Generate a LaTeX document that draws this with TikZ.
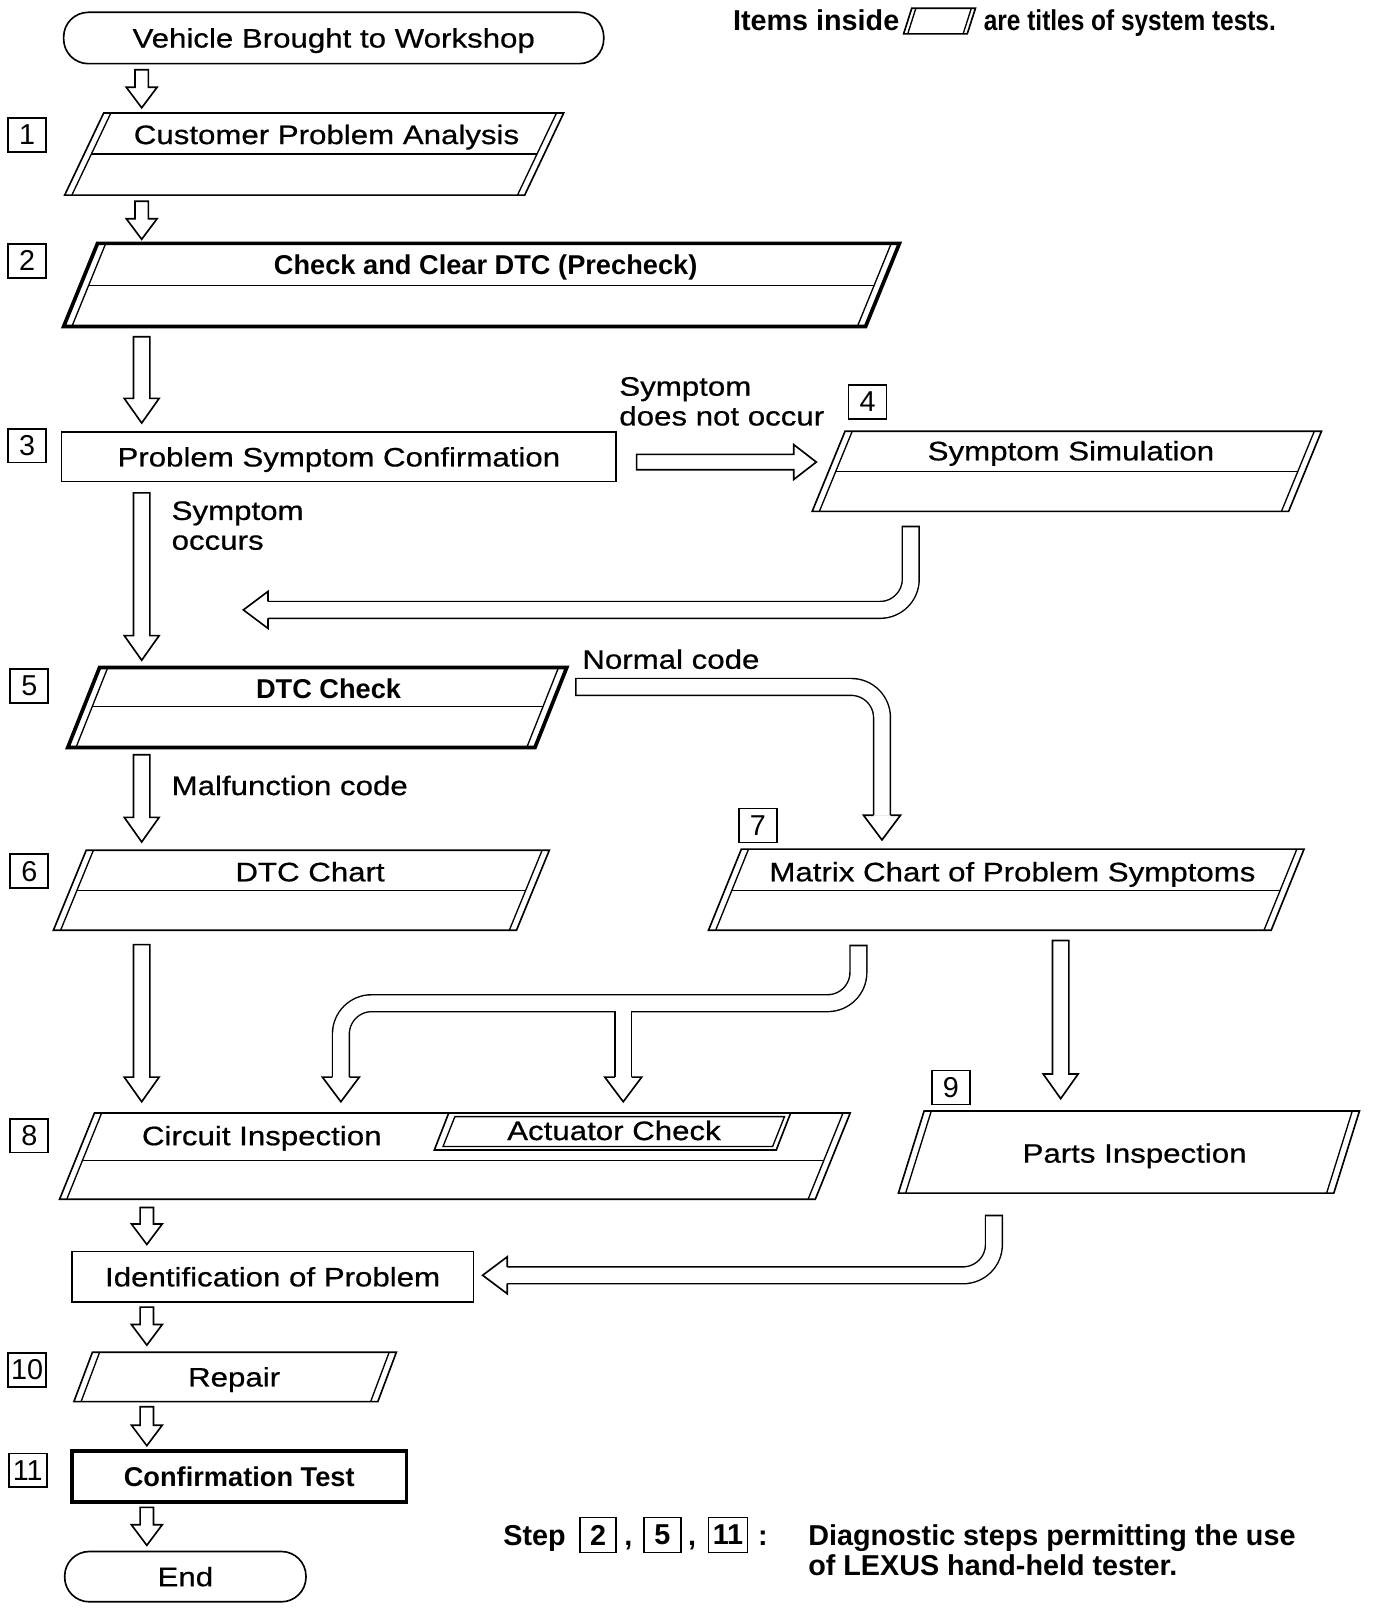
\documentclass[tikz,border=0pt]{standalone}
\usepackage{graphicx}
\usepackage{fontspec}
\setmainfont{Liberation Sans}
\newfontfamily\widefont[FakeStretch=1.17,FakeBold=0.6]{Liberation Sans}
\usetikzlibrary{calc}
% parallelogram: #1 top y, #2 bottom y, #3 top-left x, #4 top-right x, #5 slant, #6 middle-line y (or empty), #7 outline style, #8 inner offset
\newcommand\para[8]{%
 \draw[#7,fill=white] (#3,#1) -- (#4,#1) -- (#4-#5,#2) -- (#3-#5,#2) -- cycle;
 \draw[thinln] (#3+#8,#1) -- (#3+#8-#5,#2);
 \draw[thinln] (#4-#8,#1) -- (#4-#8-#5,#2);
 \if\relax\detokenize{#6}\relax\else
  \draw[thinln] ({#3+#8-#5*(#6-#1)/(#2-#1)},#6) -- ({#4-#8-#5*(#6-#1)/(#2-#1)},#6);
 \fi}
% hollow down arrow: from, to, shaft half width, head half width, head length
\newcommand\dnarrow[5]{%
 \draw[ln,fill=white] let \p1=(#1), \p2=(#2) in
  (\x1-#3,\y1) -- (\x1+#3,\y1) -- (\x1+#3,\y2+#5) -- (\x1+#4,\y2+#5) -- (\x2,\y2)
  -- (\x1-#4,\y2+#5) -- (\x1-#3,\y2+#5) -- cycle;}
% hollow right arrow
\newcommand\rtarrow[5]{%
 \draw[ln,fill=white] let \p1=(#1), \p2=(#2) in
  (\x1,\y1+#3) -- (\x2-#5,\y1+#3) -- (\x2-#5,\y1+#4) -- (\x2,\y2)
  -- (\x2-#5,\y1-#4) -- (\x2-#5,\y1-#3) -- (\x1,\y1-#3) -- cycle;}
% heads for tubes
\newcommand\headleft[1]{%
 \fill[white] ($(#1)+(24,-18)$) -- (#1) -- ($(#1)+(24,18)$) -- cycle;
 \draw[ln] ($(#1)+(24,-8.2)$) -- ($(#1)+(24,-18)$) -- (#1) -- ($(#1)+(24,18)$) -- ($(#1)+(24,8.2)$);}
\newcommand\headdown[1]{%
 \fill[white] ($(#1)+(-18,-24)$) -- (#1) -- ($(#1)+(18,-24)$) -- cycle;
 \draw[ln] ($(#1)+(-8.2,-24)$) -- ($(#1)+(-18,-24)$) -- (#1) -- ($(#1)+(18,-24)$) -- ($(#1)+(8.2,-24)$);}
\begin{document}
\begin{tikzpicture}[x=1pt,y=-1pt,
 ln/.style={line width=1.6pt,line join=miter},
 thk/.style={line width=3.6pt,line join=miter},
 thinln/.style={line width=1.3pt},
 txt/.style={font=\widefont\fontsize{26}{28}\selectfont,inner sep=0pt,text height=18.6pt,text depth=0pt},
 btxt/.style={font=\fontsize{26.5}{30}\selectfont\bfseries,inner sep=0pt,text height=19pt,text depth=0pt},
 lbl/.style={font=\widefont\fontsize{26}{29}\selectfont,inner sep=0pt,align=left},
 numbox/.style={draw,line width=1.6pt,minimum width=37pt,minimum height=33pt,inner sep=0pt,font=\fontsize{28}{28}\selectfont},
 tubeout/.style={line width=17.8pt,rounded corners=30pt},
 tubein/.style={white,line width=15pt,rounded corners=30pt},
 ftxt/.style={font=\fontsize{28}{29}\selectfont\bfseries,inner sep=0pt},
]
\fill[white] (0,0) rectangle (1340,1568);
\useasboundingbox (0,0) rectangle (1340,1568);

% ---------- start
\node[draw,ln,rounded corners=24pt,minimum width=526pt,minimum height=50pt,txt] (start) at (325,37) {Vehicle Brought to Workshop};

% ---------- legend
\node[ftxt,anchor=east,text height=20pt,text depth=0pt] (leg1) at (876,20) {Items inside};
\draw[ln,fill=white] (888,8) -- (950,8) -- (942,33) -- (880,33) -- cycle;
\draw[thinln] (892,8) -- (884,33);
\draw[thinln] (946,8) -- (938,33);
\node[ftxt,anchor=west,text height=20pt,text depth=0pt] (leg2) at (958,20) {\scalebox{0.85}[1]{are titles of system tests.}};

% ---------- number boxes
\node[numbox] (n1) at (26.5,131.5) {1};
\node[numbox] (n2) at (26.5,254) {2};
\node[numbox] (n3) at (26.5,434) {3};
\node[numbox] (n4) at (845,391.5) {4};
\node[numbox] (n5) at (28.5,668) {5};
\node[numbox] (n6) at (28.5,848.5) {6};
\node[numbox] (n7) at (738,804) {7};
\node[numbox] (n8) at (28.5,1106) {8};
\node[numbox] (n9) at (926,1059) {9};
\node[numbox] (n10) at (26.5,1334) {10};
\node[numbox] (n11) at (27,1432) {11};

% ---------- steps
\para{110}{190}{101}{549}{38}{150}{ln}{7}
\node[txt] (p1) at (318,131) {Customer Problem Analysis};

\para{237}{318}{95}{876}{33}{278}{thk}{8}
\node[btxt] (p2) at (473,258) {Check and Clear DTC (Precheck)};

\node[draw,ln,minimum width=540pt,minimum height=48pt,txt] (p3) at (330,445) {Problem Symptom Confirmation};

\para{420}{498}{823}{1287}{32}{459}{ln}{7}
\node[txt] (p4) at (1043,439) {Symptom Simulation};

\para{650}{728}{97}{552}{31}{688}{thk}{8}
\node[btxt] (p5) at (320,671) {DTC Check};

\para{828}{906}{84}{535}{32}{867}{ln}{7}
\node[txt] (p6) at (302,849) {DTC Chart};

\para{827}{906}{722}{1270}{32}{867}{ln}{7}
\node[txt] (p7) at (986,849) {Matrix Chart of Problem Symptoms};

\para{1084}{1168}{92}{828}{34}{1130}{ln}{7}
\draw[ln,fill=white] (437,1084) -- (770,1084) -- (756,1120) -- (423,1120) -- cycle;
\draw[thinln] (443,1087.5) -- (764,1087.5) -- (752.5,1116.5) -- (431.5,1116.5) -- cycle;
\node[txt] (p8) at (255,1106) {Circuit Inspection};
\node[txt] (p8a) at (598,1101) {Actuator Check};

\para{1082}{1162}{900}{1324}{25}{}{ln}{7}
\node[txt] (p9) at (1105,1123) {Parts Inspection};

\node[draw,ln,minimum width=391pt,minimum height=49pt,txt] (idp) at (265.5,1243.5) {Identification of Problem};

\para{1317}{1365}{90}{386}{18}{}{ln}{7}
\node[txt] (p10) at (228,1341) {Repair};

\node[draw,thk,minimum width=326pt,minimum height=50pt,btxt] (p11) at (233,1438) {Confirmation Test};

\node[draw,ln,rounded corners=24pt,minimum width=235pt,minimum height=49pt,txt] (end) at (180.5,1535.5) {End};

% ---------- labels
\node[lbl,anchor=north west] (l1) at (603,367) {Symptom\\does not occur};
\node[lbl,anchor=north west] (l2) at (167,488) {Symptom\\occurs};
\node[lbl,anchor=west,text height=18.6pt,text depth=0pt] (l3) at (567,642) {Normal code};
\node[lbl,anchor=west,text height=18.6pt,text depth=0pt] (l4) at (167,765) {Malfunction code};

% ---------- straight arrows
\coordinate (a1s) at (138,68);   \coordinate (a1e) at (138,105);
\coordinate (a2s) at (138,196);  \coordinate (a2e) at (138,233);
\coordinate (a3s) at (138,328);  \coordinate (a3e) at (138,412);
\coordinate (a4s) at (138,480);  \coordinate (a4e) at (138,643);
\coordinate (a5s) at (138,735);  \coordinate (a5e) at (138,820);
\coordinate (a6s) at (138,920);  \coordinate (a6e) at (138,1073);
\coordinate (a7s) at (1033,916); \coordinate (a7e) at (1033,1070);
\coordinate (a8s) at (143,1176); \coordinate (a8e) at (143,1212);
\coordinate (a9s) at (143,1273); \coordinate (a9e) at (143,1310);
\coordinate (a10s) at (143,1370); \coordinate (a10e) at (143,1408);
\coordinate (a11s) at (143,1468); \coordinate (a11e) at (143,1505);
\coordinate (h1s) at (620,450);  \coordinate (h1e) at (795,450);

\dnarrow{a1s}{a1e}{6.5}{15}{20}
\dnarrow{a2s}{a2e}{6.5}{15}{20}
\dnarrow{a3s}{a3e}{8}{17}{24}
\dnarrow{a4s}{a4e}{8}{17}{24}
\dnarrow{a5s}{a5e}{8}{17}{24}
\dnarrow{a6s}{a6e}{8}{17}{24}
\dnarrow{a7s}{a7e}{8}{17}{24}
\dnarrow{a8s}{a8e}{6.5}{15}{20}
\dnarrow{a9s}{a9e}{6.5}{15}{20}
\dnarrow{a10s}{a10e}{6.5}{15}{20}
\dnarrow{a11s}{a11e}{6.5}{15}{20}
\rtarrow{h1s}{h1e}{7.5}{17}{22}

% ---------- bent tube arrows
% 4 -> back to main line
\coordinate (b1s) at (887,512); \coordinate (b1c) at (887,594); \coordinate (b1e) at (237,594);
\draw[tubeout] (b1s) -- (b1c) -- ($(b1e)+(24,0)$);
\draw[tubein] ($(b1s)+(0,1.6)$) -- (b1c) -- ($(b1e)+(24,0)$);
\headleft{b1e}

% 5 normal code -> 7
\coordinate (b2s) at (560,669); \coordinate (b2c) at (859,669); \coordinate (b2e) at (859,818);
\draw[tubeout] (b2s) -- (b2c) -- ($(b2e)+(0,-24)$);
\draw[tubein] ($(b2s)+(1.6,0)$) -- (b2c) -- ($(b2e)+(0,-24)$);
\headdown{b2e}

% 7 -> circuit inspection / actuator check
\coordinate (b3s) at (836,920); \coordinate (b3c1) at (836,977); \coordinate (b3c2) at (332,977);
\coordinate (b3e1) at (332,1073); \coordinate (b3j) at (607,977); \coordinate (b3e2) at (607,1073);
\draw[tubeout] (b3s) -- (b3c1) -- (b3c2) -- ($(b3e1)+(0,-24)$);
\draw[tubeout] (b3j) -- ($(b3e2)+(0,-24)$);
\draw[tubein] ($(b3s)+(0,1.6)$) -- (b3c1) -- (b3c2) -- ($(b3e1)+(0,-24)$);
\draw[tubein] (b3j) -- ($(b3e2)+(0,-24)$);
\headdown{b3e1}
\headdown{b3e2}

% 9 -> identification of problem
\coordinate (b4s) at (968,1183); \coordinate (b4c) at (968,1242); \coordinate (b4e) at (470,1242);
\draw[tubeout] (b4s) -- (b4c) -- ($(b4e)+(24,0)$);
\draw[tubein] ($(b4s)+(0,1.6)$) -- (b4c) -- ($(b4e)+(24,0)$);
\headleft{b4e}

% ---------- footer note
\node[ftxt,anchor=west,text height=20pt,text depth=0pt] (step) at (490,1495) {Step};
\node[numbox,minimum width=35pt,minimum height=34pt,font=\fontsize{28}{28}\selectfont\bfseries] (f2) at (582.5,1495) {2};
\node[ftxt,anchor=base] (c1) at (612,1505) {,};
\node[numbox,minimum width=36pt,minimum height=34pt,font=\fontsize{28}{28}\selectfont\bfseries] (f5) at (645,1495) {5};
\node[ftxt,anchor=base] (c2) at (674,1505) {,};
\node[numbox,minimum width=38pt,minimum height=34pt,font=\fontsize{28}{28}\selectfont\bfseries] (f11) at (709,1495) {11};
\node[ftxt,anchor=base] (colon) at (743,1505) {:};
\node[ftxt,anchor=north west,align=left] (note) at (787,1485) {Diagnostic steps permitting the use\\of LEXUS hand-held tester.};
\end{tikzpicture}
\end{document}
